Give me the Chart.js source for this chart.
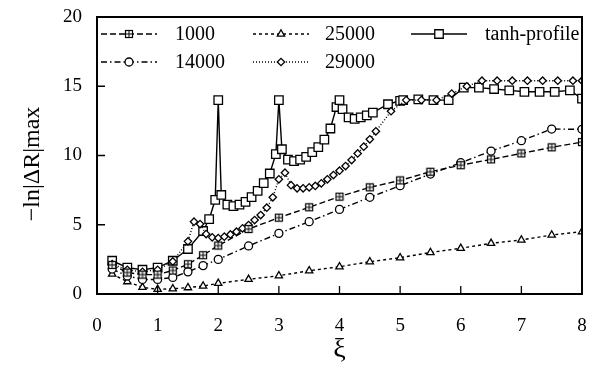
<!DOCTYPE html>
<html lang="en">
<head>
    <meta charset="UTF-8">
    <title>-ln|ΔR|max vs ξ</title>
    <script src="https://cdn.jsdelivr.net/npm/chart.js"></script>
    <style>
        html, body { margin: 0; padding: 0; background: #fff; }
        #wrap { width: 595px; height: 382px; }
    </style>
</head>
<body>
    <div id="wrap"><canvas id="xiChart" width="595" height="382"></canvas></div>

    <script>
        // values
        const xCoarse = [0.25, 0.5, 0.75, 1, 1.25, 1.5, 1.75, 2, 2.5, 3, 3.5, 4, 4.5, 5, 5.5, 6, 6.5, 7, 7.5, 8];
        const y1000  = [2.1, 1.55, 1.4, 1.4, 1.7, 2.15, 2.8, 3.5, 4.69, 5.51, 6.26, 7.03, 7.7, 8.2, 8.83, 9.3, 9.72, 10.15, 10.59, 10.97];
        const y14000 = [1.8, 1.3, 1.05, 1.05, 1.2, 1.6, 2.05, 2.5, 3.47, 4.38, 5.22, 6.11, 6.98, 7.82, 8.66, 9.48, 10.32, 11.07, 11.91, 11.89];
        const y25000 = [1.44, 0.89, 0.48, 0.34, 0.38, 0.46, 0.58, 0.77, 1.06, 1.32, 1.68, 1.97, 2.33, 2.62, 3.0, 3.3, 3.66, 3.9, 4.26, 4.5];

        const x29000 = [0.25, 0.5, 0.75, 1, 1.25,
            1.5, 1.6, 1.7, 1.8, 1.9, 2.0, 2.1, 2.2, 2.3, 2.4, 2.5, 2.6, 2.7, 2.8, 2.9, 3.0,
            3.1, 3.2, 3.3, 3.4, 3.5, 3.6, 3.7, 3.8, 3.9, 4.0, 4.1, 4.2, 4.3, 4.4, 4.5, 4.6,
            4.85, 5.1, 5.35, 5.6, 5.85, 6.1, 6.35, 6.6, 6.85, 7.1, 7.35, 7.6, 7.85, 8.0];
        const y29000 = [2.15, 1.75, 1.6, 1.75, 2.35,
            3.8, 5.22, 5.05, 4.33, 4.09, 4.04, 4.14, 4.3, 4.5, 4.74, 4.98, 5.34, 5.7, 6.23, 6.98, 8.28,
            8.76, 7.86, 7.63, 7.63, 7.7, 7.8, 7.99, 8.28, 8.59, 8.9, 9.24, 9.67, 10.15, 10.64, 11.17, 11.75,
            13.2, 14.0, 14.0, 14.0, 14.47, 15.0, 15.4, 15.4, 15.4, 15.4, 15.4, 15.4, 15.4, 15.4];

        const xTanh = [0.25, 0.5, 0.75, 1, 1.25, 1.5, 1.75, 1.85, 1.95, 2.0, 2.05,
            2.15, 2.25, 2.35, 2.45, 2.55, 2.65, 2.75, 2.85, 2.95, 3.0, 3.05,
            3.15, 3.25, 3.35, 3.45, 3.55, 3.65, 3.75, 3.85, 3.95, 4.0, 4.05,
            4.15, 4.25, 4.35, 4.45, 4.55, 4.8, 5.0, 5.05, 5.3, 5.55, 5.8,
            6.05, 6.3, 6.55, 6.8, 7.05, 7.3, 7.55, 7.8, 8.0];
        const yTanh = [2.4, 1.9, 1.75, 1.9, 2.4, 3.25, 4.55, 5.4, 6.8, 14.0, 7.15,
            6.45, 6.35, 6.45, 6.65, 7.0, 7.45, 8.0, 8.7, 10.1, 14.0, 10.45,
            9.7, 9.6, 9.7, 9.9, 10.25, 10.6, 11.15, 11.95, 13.5, 14.0, 13.35,
            12.75, 12.65, 12.75, 12.9, 13.1, 13.7, 13.95, 14.0, 14.05, 14.0, 14.0,
            14.9, 14.9, 14.8, 14.7, 14.6, 14.6, 14.6, 14.7, 14.1];

        const xTicks = [0, 1, 2, 3, 4, 5, 6, 7, 8];
        const yTicks = [0, 5, 10, 15, 20];

        const SERIF = '"Liberation Serif", "DejaVu Serif", serif';

        function pts(xs, ys) {
            return xs.map((x, i) => ({ x: x, y: ys[i] }));
        }

        // open square with a plus inside, for the 1000 series
        function makeBoxPlus() {
            const c = document.createElement('canvas');
            c.width = 10; c.height = 10;
            const g = c.getContext('2d');
            g.fillStyle = '#fff';
            g.fillRect(1, 1, 8, 8);
            g.strokeStyle = '#000';
            g.lineWidth = 1.2;
            g.strokeRect(1.5, 1.5, 7, 7);
            g.lineWidth = 1;
            g.beginPath();
            g.moveTo(5, 1.5); g.lineTo(5, 8.5);
            g.moveTo(1.5, 5); g.lineTo(8.5, 5);
            g.stroke();
            return c;
        }
        const boxPlus = makeBoxPlus();

        function series(label, data, dash, style, radius) {
            return {
                label: label,
                data: data,
                borderColor: '#000',
                borderWidth: 1.4,
                borderDash: dash,
                pointStyle: style,
                pointRadius: radius,
                pointBorderWidth: 1.3,
                pointBorderColor: '#000',
                pointBackgroundColor: '#fff',
                fill: false,
                tension: 0
            };
        }

        const datasets = [
            series('1000', pts(xCoarse, y1000), [6, 3], boxPlus, 5),
            series('14000', pts(xCoarse, y14000), [6, 3, 1.5, 3], 'circle', 4),
            series('25000', pts(xCoarse, y25000), [3, 3], 'triangle', 4.2),
            series('29000', pts(x29000, y29000), [1, 2], 'rectRot', 3.7),
            series('tanh-profile', pts(xTanh, yTanh), [], 'rect', 6)
        ];

        // legend layout: three columns, filled column by column
        const legendSlots = [
            { sx: 101, tx: 175, y: 34 },
            { sx: 101, tx: 175, y: 62 },
            { sx: 253, tx: 325, y: 34 },
            { sx: 253, tx: 325, y: 62 },
            { sx: 411, tx: 485, y: 34 }
        ];

        const framePlugin = {
            id: 'frame',
            afterDatasetsDraw(chart) {
                const ctx = chart.ctx;
                const a = chart.chartArea;
                const xs = chart.scales.x, ys = chart.scales.y;
                ctx.save();
                ctx.strokeStyle = '#000';
                ctx.lineWidth = 2;
                ctx.setLineDash([]);
                ctx.strokeRect(a.left, a.top, a.right - a.left, a.bottom - a.top);
                // inward tick marks
                ctx.lineWidth = 1.3;
                ctx.beginPath();
                xTicks.forEach(v => {
                    const p = xs.getPixelForValue(v);
                    ctx.moveTo(p, a.bottom); ctx.lineTo(p, a.bottom - 8);
                });
                yTicks.forEach(v => {
                    const p = ys.getPixelForValue(v);
                    ctx.moveTo(a.left, p); ctx.lineTo(a.left + 8, p);
                });
                ctx.stroke();

                // y axis title
                ctx.fillStyle = '#000';
                ctx.font = '24px ' + SERIF;
                ctx.textAlign = 'center';
                ctx.textBaseline = 'middle';
                ctx.translate(33, 164);
                ctx.rotate(-Math.PI / 2);
                ctx.fillText('\u2212ln|\u0394R|max', 0, 0);
                ctx.restore();

                // legend
                ctx.save();
                ctx.font = '20px ' + SERIF;
                ctx.textBaseline = 'middle';
                ctx.textAlign = 'left';
                chart.data.datasets.forEach((ds, i) => {
                    const s = legendSlots[i];
                    ctx.strokeStyle = '#000';
                    ctx.lineWidth = ds.borderWidth;
                    ctx.setLineDash(ds.borderDash);
                    ctx.beginPath();
                    ctx.moveTo(s.sx, s.y);
                    ctx.lineTo(s.sx + 56, s.y);
                    ctx.stroke();
                    ctx.setLineDash([]);
                    const mx = s.sx + 28;
                    if (ds.pointStyle instanceof HTMLCanvasElement) {
                        ctx.drawImage(ds.pointStyle, mx - ds.pointStyle.width / 2, s.y - ds.pointStyle.height / 2);
                    } else {
                        ctx.fillStyle = '#fff';
                        ctx.lineWidth = ds.pointBorderWidth;
                        Chart.helpers.drawPoint(ctx, {
                            pointStyle: ds.pointStyle,
                            radius: ds.pointRadius,
                            borderWidth: ds.pointBorderWidth,
                            rotation: 0
                        }, mx, s.y);
                    }
                    ctx.fillStyle = '#000';
                    ctx.fillText(ds.label, s.tx, s.y + 1);
                });
                ctx.restore();
            }
        };

        const chart = new Chart(document.getElementById('xiChart').getContext('2d'), {
            type: 'line',
            data: { datasets: datasets },
            options: {
                responsive: false,
                animation: false,
                events: [],
                layout: { padding: { top: 17, right: 13, left: 0, bottom: 0 } },
                plugins: {
                    legend: { display: false },
                    tooltip: { enabled: false }
                },
                scales: {
                    x: {
                        type: 'linear',
                        min: 0,
                        max: 8,
                        afterBuildTicks: s => { s.ticks = xTicks.map(v => ({ value: v })); },
                        afterFit: s => {
                            s.height = 88;
                            s.paddingLeft = 0;
                            s.paddingRight = 0;
                        },
                        grid: { display: false, drawTicks: false },
                        border: { display: false },
                        ticks: {
                            color: '#000',
                            padding: 21,
                            maxRotation: 0,
                            font: { family: SERIF, size: 19 }
                        },
                        title: {
                            display: true,
                            text: '\u03BE',
                            color: '#000',
                            font: { family: SERIF, size: 28 },
                            padding: { top: 0, bottom: 16 }
                        }
                    },
                    y: {
                        min: 0,
                        max: 20,
                        afterBuildTicks: s => { s.ticks = yTicks.map(v => ({ value: v })); },
                        afterFit: s => {
                            s.width = 97;
                            s.paddingTop = 0;
                            s.paddingBottom = 0;
                        },
                        grid: { display: false, drawTicks: false },
                        border: { display: false },
                        ticks: {
                            color: '#000',
                            padding: 15,
                            font: { family: SERIF, size: 19 }
                        }
                    }
                }
            },
            plugins: [framePlugin]
        });
    </script>
</body>
</html>
